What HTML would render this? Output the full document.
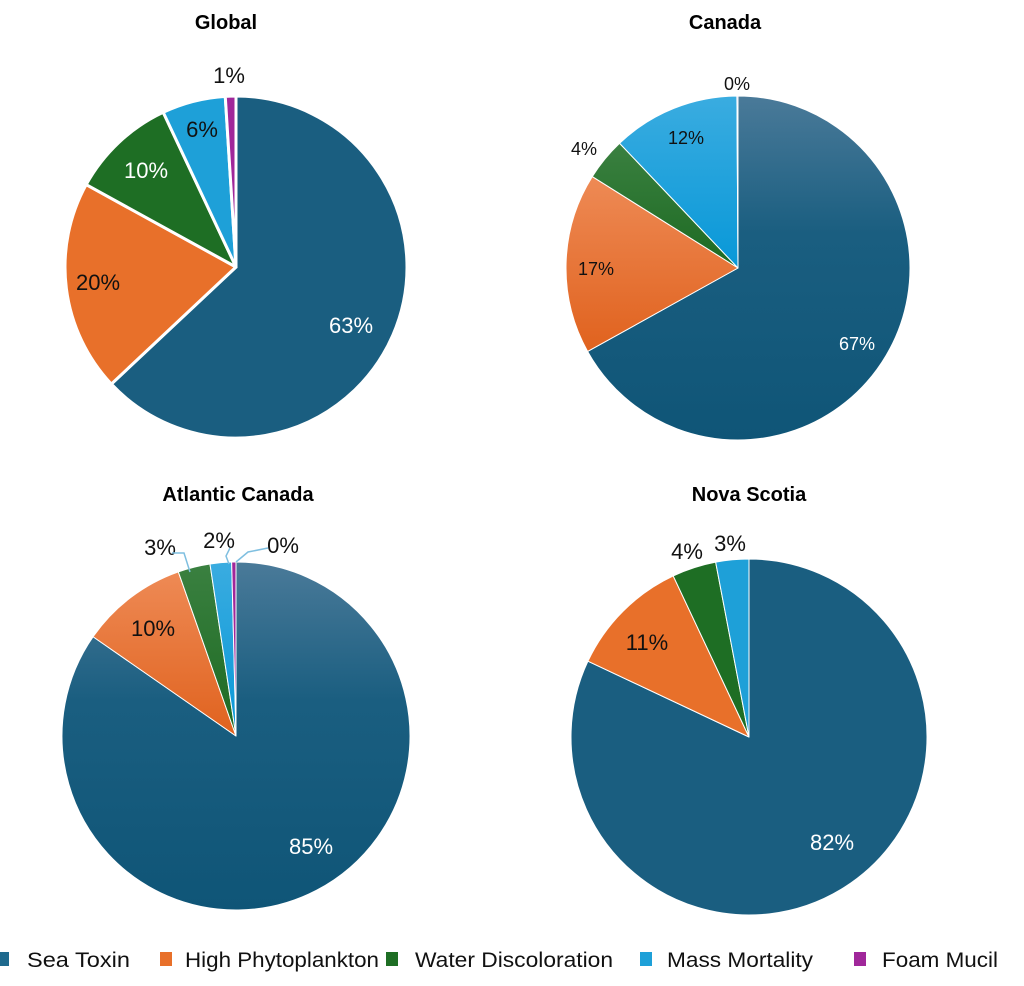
<!DOCTYPE html>
<html><head><meta charset="utf-8"><style>
body{margin:0;background:#fff;}
svg{display:block;font-family:"Liberation Sans",Arial,sans-serif;}
</style></head><body>
<svg id="s" width="1024" height="986" viewBox="0 0 1024 986">
<defs>
<linearGradient id="gT" x1="0" y1="0" x2="0" y2="1"><stop offset="0" stop-color="#4a7a99"/><stop offset="0.4" stop-color="#1a5e80"/><stop offset="1" stop-color="#0f5577"/></linearGradient>
<linearGradient id="gO" x1="0" y1="0" x2="0" y2="1"><stop offset="0" stop-color="#ee8a55"/><stop offset="1" stop-color="#e0621e"/></linearGradient>
<linearGradient id="gG" x1="0" y1="0" x2="0" y2="1"><stop offset="0" stop-color="#3a8040"/><stop offset="1" stop-color="#1d6a22"/></linearGradient>
<linearGradient id="gB" x1="0" y1="0" x2="0" y2="1"><stop offset="0" stop-color="#3aace0"/><stop offset="1" stop-color="#0898d8"/></linearGradient>
</defs>
<g id="pies"></g>
<g font-weight="bold" font-size="20" text-anchor="middle" fill="#000">
<text x="226" y="29">Global</text>
<text x="725" y="29">Canada</text>
<text x="238" y="501">Atlantic Canada</text>
<text x="749" y="501">Nova Scotia</text>
</g>
<g font-size="22" text-anchor="middle">
<text x="351" y="333" fill="#fff">63%</text>
<text x="98" y="290" fill="#111">20%</text>
<text x="146" y="178" fill="#fff">10%</text>
<text x="202" y="137" fill="#111">6%</text>
<text x="229" y="83" fill="#111">1%</text>
<text x="311" y="854" fill="#fff">85%</text>
<text x="153" y="636" fill="#111">10%</text>
<text x="160" y="555" fill="#111">3%</text>
<text x="219" y="548" fill="#111">2%</text>
<text x="283" y="553" fill="#111">0%</text>
<text x="832" y="850" fill="#fff">82%</text>
<text x="647" y="650" fill="#111">11%</text>
<text x="687" y="559" fill="#111">4%</text>
<text x="730" y="551" fill="#111">3%</text>
</g>
<g font-size="18" text-anchor="middle">
<text x="857" y="350" fill="#fff">67%</text>
<text x="596" y="275" fill="#111">17%</text>
<text x="584" y="155" fill="#111">4%</text>
<text x="686" y="144" fill="#111">12%</text>
<text x="737" y="90" fill="#111">0%</text>
</g>
<g stroke="#7fbfe0" stroke-width="1.5" fill="none">
<polyline points="172,553 184,553 190,572"/>
<polyline points="230,548 226,556 229,564"/>
<polyline points="268,548 248,552 236,562"/>
</g>
<g font-size="21" fill="#111">
<rect x="-4" y="952" width="13" height="14" fill="#1f6a8e"/><text x="27" y="967" textLength="103" lengthAdjust="spacingAndGlyphs">Sea Toxin</text>
<rect x="160" y="952" width="12" height="14" fill="#e8702a"/><text x="185" y="967" textLength="194" lengthAdjust="spacingAndGlyphs">High Phytoplankton</text>
<rect x="386" y="952" width="12" height="14" fill="#1e6e24"/><text x="415" y="967" textLength="198" lengthAdjust="spacingAndGlyphs">Water Discoloration</text>
<rect x="640" y="952" width="12" height="14" fill="#1ea0d8"/><text x="667" y="967" textLength="146" lengthAdjust="spacingAndGlyphs">Mass Mortality</text>
<rect x="854" y="952" width="12" height="14" fill="#a0279a"/><text x="882" y="967" textLength="116" lengthAdjust="spacingAndGlyphs">Foam Mucil</text>
</g>
</svg>
<script>
var g=document.getElementById('pies');
function pie(cx,cy,r,vals,fills,sw){
 var a=0,tot=vals.reduce((x,y)=>x+y,0);
 vals.forEach(function(v,i){
  if(v<=0)return;
  var a2=a+v/tot*2*Math.PI;
  var x1=cx+r*Math.sin(a),y1=cy-r*Math.cos(a),x2=cx+r*Math.sin(a2),y2=cy-r*Math.cos(a2);
  var p=document.createElementNS('http://www.w3.org/2000/svg','path');
  p.setAttribute('d','M'+cx+','+cy+'L'+x1+','+y1+'A'+r+','+r+' 0 '+((a2-a)>Math.PI?1:0)+' 1 '+x2+','+y2+'Z');
  p.setAttribute('fill',fills[i]);
  if(sw){p.setAttribute('stroke','#fff');p.setAttribute('stroke-width',sw);p.setAttribute('stroke-linejoin','round');}
  g.appendChild(p);a=a2;
 });
}
var flat=['#1a5e80','#e8702a','#1e6e24','#1ea0d8','#a0279a'];
var grad=['url(#gT)','url(#gO)','url(#gG)','url(#gB)','#a0279a'];
pie(236,267,171,[63,20,10,6,1],flat,3);
pie(738,268,172,[67,17,4,12,0.1],grad,1);
pie(236,736,174,[85,10,3,2,0.4],grad,1);
pie(749,737,178,[82,11,4,3],flat,1);
</script>
</body></html>
